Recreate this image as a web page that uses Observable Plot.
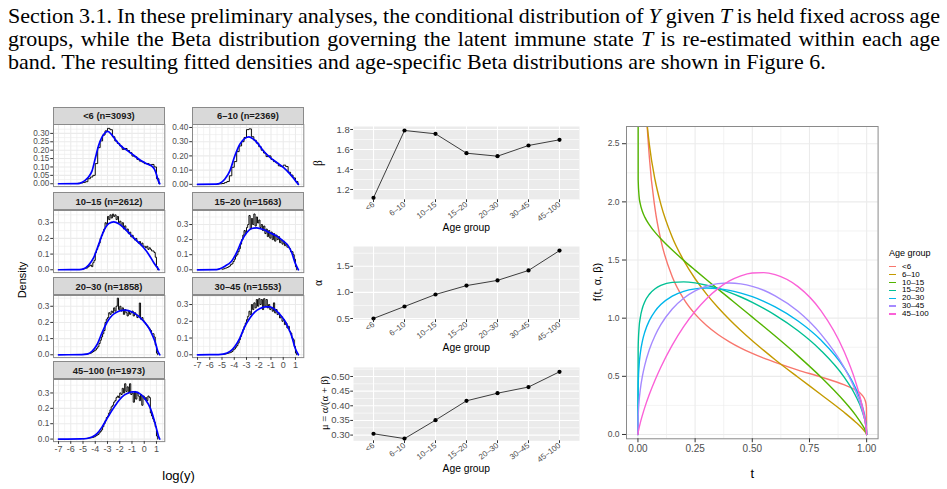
<!DOCTYPE html>
<html><head><meta charset="utf-8">
<script src="https://cdn.jsdelivr.net/npm/d3@7"></script>
<script src="https://cdn.jsdelivr.net/npm/@observablehq/plot@0.6"></script>
<style>
body{margin:0;background:#fff;}
#fig{position:relative;width:947px;height:489px;overflow:hidden;background:#fff;font-family:"Liberation Sans",Arial,sans-serif;}
.txt{position:absolute;white-space:nowrap;line-height:1;}
.para{position:absolute;left:8px;width:932px;font-family:"Liberation Serif","Times New Roman",serif;font-size:22px;line-height:23px;white-space:nowrap;color:#000;}
.just{text-align:justify;text-align-last:justify;}
.strip{position:absolute;box-sizing:border-box;background:#d9d9d9;border:1px solid #8a8a8a;font-weight:bold;font-size:9.4px;color:#1a1a1a;display:flex;align-items:center;justify-content:center;white-space:nowrap;}
</style></head><body><div id="fig"></div>
<script>
// ---------------- DATA ----------------
const ageGroups = ["<6","6–10","10–15","15–20","20–30","30–45","45–100"];
const nObs = [3093,2369,2612,1563,1858,1553,1973];
const colors = ["#F8766D","#C49A00","#53B400","#00C094","#00B6EB","#A58AFF","#FB61D7"];

// middle panels: estimated Beta parameters by age group
const betaVals  = [1.117,1.790,1.757,1.563,1.533,1.640,1.697];
const alphaVals = [0.50,0.73,0.96,1.13,1.23,1.42,1.80];
const muVals    = [0.3045,0.288,0.351,0.417,0.443,0.464,0.516];

// histograms of log(y) (density scale); first two panels: bins of 0.2 from -5.4, others 0.1 from -5.0
const histLt6 = [0.003,0.005,0.008,0.012,0.03,0.04,0.05,0.12,0.215,0.255,0.29,0.315,0.33,0.322,0.28,0.255,0.24,0.225,0.205,0.21,0.198,0.185,0.165,0.16,0.145,0.135,0.13,0.12,0.12,0.112,0.115,0.1,0.03];
const hist6to10 = [0.003,0.004,0.006,0.012,0.02,0.06,0.12,0.16,0.23,0.27,0.30,0.33,0.385,0.39,0.335,0.31,0.29,0.265,0.24,0.22,0.195,0.2,0.175,0.16,0.15,0.13,0.125,0.135,0.125,0.085,0.065,0.045,0.02];
const hist10to15 = [0.005,0.008,0.01,0.012,0.02, 0.025,0.03,0.02,0.045,0.06, 0.11,0.13,0.15,0.17,0.2, 0.22,0.24,0.26,0.3,0.29, 0.34,0.32,0.35,0.33,0.355, 0.34,0.35,0.32,0.34,0.3, 0.31,0.28,0.3,0.26,0.28, 0.25,0.26,0.23,0.24,0.21, 0.22,0.2,0.19,0.2,0.18, 0.17,0.18,0.16,0.17,0.15, 0.15,0.14,0.15,0.13,0.14, 0.13,0.12,0.12,0.11,0.08, 0.02];
const hist15to20 = [0.004,0.006,0.01,0.012,0.015, 0.02,0.025,0.035,0.04,0.055, 0.07,0.09,0.1,0.12,0.14, 0.17,0.2,0.23,0.26,0.24, 0.28,0.3,0.36,0.27,0.34, 0.3,0.37,0.29,0.35,0.31, 0.33,0.28,0.3,0.26,0.29, 0.24,0.27,0.22,0.26,0.21, 0.25,0.2,0.24,0.19,0.23, 0.2,0.22,0.18,0.2,0.17, 0.19,0.16,0.17,0.15,0.15, 0.14,0.12,0.12,0.1,0.07, 0.02];
const hist20to30 = [0.002,0.003,0.004,0.005,0.006, 0.008,0.01,0.015,0.02,0.025, 0.03,0.04,0.05,0.07,0.09, 0.11,0.13,0.15,0.2,0.22, 0.23,0.26,0.25,0.27,0.26, 0.29,0.27,0.3,0.35,0.28, 0.3,0.27,0.29,0.25,0.28, 0.26,0.24,0.27,0.25,0.26, 0.27,0.24,0.26,0.25,0.23, 0.24,0.32,0.22,0.23,0.21, 0.2,0.19,0.18,0.17,0.16, 0.15,0.13,0.13,0.11,0.06, 0.01];
const hist30to45 = [0.002,0.003,0.004,0.006,0.008, 0.01,0.012,0.015,0.02,0.03, 0.035,0.045,0.055,0.07,0.09, 0.11,0.13,0.15,0.17,0.19, 0.21,0.23,0.26,0.24,0.3, 0.27,0.31,0.28,0.33,0.29, 0.335,0.3,0.33,0.27,0.335, 0.29,0.33,0.28,0.3,0.27, 0.28,0.26,0.31,0.25,0.27, 0.24,0.25,0.22,0.23,0.2, 0.21,0.18,0.19,0.16,0.17, 0.14,0.13,0.1,0.09,0.05, 0.01];
const hist45to100 = [0.002,0.003,0.004,0.005,0.006, 0.007,0.008,0.01,0.012,0.015, 0.02,0.025,0.03,0.04,0.05, 0.06,0.08,0.1,0.12,0.14, 0.15,0.17,0.19,0.21,0.22, 0.24,0.25,0.27,0.28,0.27, 0.3,0.29,0.33,0.3,0.36, 0.31,0.34,0.3,0.36,0.29, 0.3,0.24,0.31,0.26,0.3, 0.28,0.25,0.29,0.22,0.28, 0.26,0.27,0.25,0.28,0.27, 0.17,0.15,0.13,0.11,0.08, 0.02];
const histStart = [-5.4,-5.4,-5.0,-5.0,-5.0,-5.0,-5.0];
const histWidth = [0.2,0.2,0.1,0.1,0.1,0.1,0.1];

// fitted densities (blue), [log(y), density]
const fitLt6 = [[-7,0],[-5.4,0.001],[-5.1,0.008],[-4.8,0.022],[-4.55,0.04],[-4.27,0.075],[-4.0,0.15],[-3.72,0.229],[-3.45,0.278],[-3.18,0.305],[-2.98,0.312],[-2.63,0.29],[-2.22,0.25],[-1.81,0.219],[-1.4,0.199],[-0.86,0.17],[-0.31,0.14],[0.24,0.118],[0.65,0.103],[0.84,0.085],[1.0,0.055],[1.14,0.02],[1.27,0]];
const fit6to10 = [[-7,0],[-5.45,0.001],[-5.17,0.007],[-4.76,0.037],[-4.35,0.096],[-3.95,0.201],[-3.54,0.283],[-3.13,0.323],[-2.8,0.334],[-2.44,0.318],[-2.03,0.283],[-1.63,0.236],[-1.08,0.189],[-0.53,0.154],[0.01,0.119],[0.56,0.072],[1.1,0.014],[1.24,0]];
const fit10to15 = [[-7,0],[-5.3,0.001],[-4.95,0.006],[-4.54,0.03],[-4.13,0.077],[-3.72,0.162],[-3.31,0.247],[-2.9,0.294],[-2.49,0.306],[-2.08,0.294],[-1.67,0.268],[-1.13,0.225],[-0.58,0.183],[-0.04,0.14],[0.37,0.098],[0.78,0.045],[1.2,0]];
const fit15to20 = [[-7,0],[-5.45,0.001],[-5.17,0.007],[-4.76,0.024],[-4.22,0.057],[-3.81,0.113],[-3.4,0.19],[-2.99,0.245],[-2.58,0.274],[-2.17,0.278],[-1.63,0.267],[-1.08,0.245],[-0.53,0.223],[0.01,0.19],[0.42,0.157],[0.7,0.113],[0.97,0.046],[1.24,0]];
const fit20to30 = [[-7,0],[-5.1,0.001],[-4.68,0.004],[-4.27,0.021],[-3.86,0.062],[-3.45,0.135],[-3.04,0.201],[-2.63,0.243],[-2.22,0.265],[-1.81,0.275],[-1.54,0.276],[-0.99,0.265],[-0.45,0.238],[-0.04,0.207],[0.37,0.166],[0.65,0.124],[0.92,0.073],[1.11,0.021],[1.27,0]];
const fit30to45 = [[-7,0],[-5.3,0.001],[-4.9,0.004],[-4.35,0.02],[-3.95,0.05],[-3.54,0.1],[-3.13,0.17],[-2.72,0.22],[-2.31,0.256],[-1.9,0.276],[-1.49,0.286],[-1.08,0.286],[-0.67,0.27],[-0.26,0.24],[0.15,0.2],[0.42,0.16],[0.7,0.11],[0.97,0.04],[1.24,0]];
const fit45to100 = [[-7,0],[-5.2,0.001],[-4.68,0.004],[-4.27,0.013],[-3.86,0.035],[-3.45,0.078],[-3.04,0.133],[-2.63,0.187],[-2.22,0.235],[-1.81,0.275],[-1.4,0.296],[-0.99,0.307],[-0.72,0.307],[-0.31,0.292],[0.1,0.257],[0.51,0.198],[0.78,0.133],[1.0,0.068],[1.19,0.013],[1.27,0]];

// facet y axes
const facetYDomains = [[-0.017,0.353],[-0.016,0.421],[-0.018,0.378],[-0.0185,0.393],[-0.0174,0.3665],[-0.0168,0.354],[-0.0163,0.3876]];
const facetYTicks = [[0,0.05,0.1,0.15,0.2,0.25,0.3],[0,0.1,0.2,0.3,0.4],[0,0.1,0.2,0.3],[0,0.1,0.2,0.3],[0,0.1,0.2,0.3],[0,0.1,0.2,0.3],[0,0.1,0.2,0.3]];
const facetYMinor = [[0.025,0.075,0.125,0.175,0.225,0.275,0.325],[0.05,0.15,0.25,0.35],[0.05,0.15,0.25,0.35],[0.05,0.15,0.25,0.35],[0.05,0.15,0.25,0.35],[0.05,0.15,0.25,0.35],[0.05,0.15,0.25,0.35]];
const facetYFormat = [".2f",".2f",".1f",".1f",".1f",".1f",".1f"];
const logYTicks = [-7,-6,-5,-4,-3,-2,-1,0,1];
const logYMinor = [-6.5,-5.5,-4.5,-3.5,-2.5,-1.5,-0.5,0.5,1.5];
const logYDomain = [-7.41,1.68];

// right panel: Beta densities f(t; alpha, beta) read on a grid of t
const tGrid = [0,0.001,0.005,0.01,0.02,0.03,0.05,0.075,0.1,0.15,0.2,0.25,0.3,0.35,0.4,0.45,0.5,0.55,0.6,0.7,0.8,0.9,0.95,0.98,0.995,0.999,1];
const betaLt6    = [50,16.94,7.571,5.350,3.779,3.081,2.381,1.938,1.673,1.357,1.166,1.035,0.937,0.860,0.797,0.743,0.697,0.656,0.620,0.554,0.494,0.428,0.384,0.339,0.284,0.234,0];
const beta6to10  = [50,7.458,4.814,3.976,3.271,2.909,2.492,2.188,1.981,1.696,1.497,1.339,1.207,1.092,0.989,0.894,0.806,0.723,0.643,0.492,0.344,0.193,0.110,0.053,0.018,0.005,0];
const beta10to15 = [50,2.190,2.047,1.984,1.915,1.869,1.803,1.738,1.683,1.586,1.497,1.413,1.331,1.250,1.170,1.090,1.009,0.928,0.846,0.676,0.494,0.290,0.171,0.085,0.030,0.009,0];
const beta15to20 = [0,0.746,0.918,1.001,1.090,1.142,1.206,1.253,1.281,1.308,1.312,1.303,1.283,1.256,1.222,1.182,1.136,1.084,1.027,0.892,0.723,0.498,0.340,0.204,0.094,0.038,0];
const beta20to30 = [0,0.410,0.592,0.692,0.807,0.881,0.980,1.061,1.117,1.190,1.231,1.252,1.259,1.254,1.239,1.216,1.185,1.145,1.097,0.976,0.812,0.578,0.405,0.251,0.121,0.052,0];
const beta30to45 = [0,0.146,0.286,0.381,0.507,0.597,0.730,0.851,0.944,1.079,1.171,1.234,1.275,1.297,1.303,1.295,1.274,1.240,1.192,1.059,0.863,0.582,0.382,0.215,0.089,0.032,0];
const beta45to100= [0,0.016,0.056,0.098,0.169,0.233,0.345,0.468,0.578,0.768,0.927,1.059,1.168,1.254,1.320,1.364,1.388,1.392,1.374,1.271,1.065,0.720,0.463,0.250,0.096,0.031,0];

// ---------------- LAYOUT ----------------
const fig = document.getElementById("fig");
const SANS = '"Liberation Sans", Arial, sans-serif';
const SERIF = '"Liberation Serif", "Times New Roman", serif';

function place(svg, left, top) {
  svg.style.position = "absolute";
  svg.style.left = left + "px";
  svg.style.top = top + "px";
  fig.appendChild(svg);
}
function addText(html, cx, cy, size, o = {}) {
  const d = document.createElement("div");
  d.className = "txt";
  d.innerHTML = html;
  d.style.left = cx + "px"; d.style.top = cy + "px";
  d.style.fontSize = size + "px";
  d.style.fontFamily = o.family || SANS;
  d.style.color = o.color || "#000";
  const ax = o.anchor === "start" ? "0" : "-50%";
  d.style.transform = `translate(${ax},-50%)`;
  if (o.rotate) {
    d.style.transformOrigin = "0 0";
    d.style.transform = `rotate(${o.rotate}deg) translate(-50%,-50%)`;
  }
  fig.appendChild(d);
  return d;
}

// paragraph
const paraLines = [
  'Section 3.1. In these preliminary analyses, the conditional distribution of <i>Y</i> given <i>T</i> is held fixed across age',
  'groups, while the Beta distribution governing the latent immune state <i>T</i> is re-estimated within each age',
  'band. The resulting fitted densities and age-specific Beta distributions are shown in Figure 6.'
];
paraLines.forEach((s, i) => {
  const d = document.createElement("div");
  d.className = "para" + (i < 2 ? " just" : "");
  d.style.top = (4 + i * 23) + "px";
  if (i < 2) d.style.wordSpacing = "-3.5px";
  d.innerHTML = s;
  fig.appendChild(d);
});

// ---------------- FACETED HISTOGRAMS ----------------
const hists = [histLt6, hist6to10, hist10to15, hist15to20, hist20to30, hist30to45, hist45to100];
const fits = [fitLt6, fit6to10, fit10to15, fit15to20, fit20to30, fit30to45, fit45to100];
const colLeft = [53.3, 192.3], panelW = 111.3;
const rowTop = [124.3, 209.7, 294.7, 378.7], panelH = 62.1, stripH = 17.5;

hists.forEach((h, i) => {
  const col = i % 2, row = Math.floor(i / 2);
  const showX = (i === 5 || i === 6);
  const ml = 34, mr = 4, mt = 1, mb = 16;
  const steps = h.map((v, k) => ({x: histStart[i] + k * histWidth[i], y: v}));
  steps.push({x: histStart[i] + h.length * histWidth[i], y: 0});
  const fmt = d3.format(facetYFormat[i]);
  const marks = [
    Plot.frame({fill: "white", stroke: "none"}),
    Plot.ruleX(logYMinor, {stroke: "#ebebeb", strokeWidth: 0.6}),
    Plot.ruleY(facetYMinor[i], {stroke: "#ebebeb", strokeWidth: 0.6}),
    Plot.ruleX(logYTicks, {stroke: "#ebebeb", strokeWidth: 1.1}),
    Plot.ruleY(facetYTicks[i], {stroke: "#ebebeb", strokeWidth: 1.1}),
    Plot.line(steps, {x: "x", y: "y", curve: "step-after", stroke: "#000", strokeWidth: 0.95}),
    Plot.line(fits[i], {x: d => d[0], y: d => d[1], curve: "monotone-x", stroke: "#0000ff", strokeWidth: 1.7}),
    Plot.frame({stroke: "#8a8a8a", strokeWidth: 1}),
    Plot.axisY({ticks: facetYTicks[i], tickFormat: fmt, tickSize: 2.75, tickPadding: 1.5, label: null, fontSize: 8.2, stroke: "#333", fill: "#4d4d4d"})
  ];
  if (showX) marks.push(Plot.axisX({ticks: logYTicks, tickFormat: d => String(d), tickSize: 2.75, tickPadding: 1.5, label: null, fontSize: 9, stroke: "#333", fill: "#4d4d4d"}));
  const svg = Plot.plot({
    width: panelW + ml + mr, height: panelH + mt + mb,
    marginLeft: ml, marginRight: mr, marginTop: mt, marginBottom: mb,
    x: {domain: logYDomain, ...(showX ? {} : {axis: null})},
    y: {domain: facetYDomains[i]},
    style: {background: "transparent", overflow: "visible", fontFamily: SANS},
    marks
  });
  place(svg, colLeft[col] - ml, rowTop[row] - mt);
  const s = document.createElement("div");
  s.className = "strip";
  s.style.left = colLeft[col] + "px";
  s.style.top = (rowTop[row] - stripH) + "px";
  s.style.width = panelW + "px";
  s.style.height = (stripH + 0.5) + "px";
  s.textContent = `${ageGroups[i]} (n=${nObs[i]})`;
  fig.appendChild(s);
});
addText("Density", 21.5, 280, 11, {rotate: -90});
addText("log(y)", 178.5, 475, 13);

// ---------------- PARAMETER PANELS ----------------
const paramPanels = [
  {vals: betaVals, dom: [1.097, 1.83], ticks: [1.2,1.4,1.6,1.8], minor: [1.1,1.3,1.5,1.7], fmt: ".1f", top: 126, label: "β", labelX: 319},
  {vals: alphaVals, dom: [0.475, 1.879], ticks: [0.5,1.0,1.5], minor: [0.75,1.25,1.75], fmt: ".1f", top: 246, label: "α", labelX: 319},
  {vals: muVals, dom: [0.2805, 0.5307], ticks: [0.30,0.35,0.40,0.45,0.50], minor: [0.325,0.375,0.425,0.475,0.525], fmt: ".2f", top: 366.7, label: "μ = α/(α + β)", labelX: 325}
];
const pLeft = 353.3, pW = 226, pH = 73.3;
paramPanels.forEach(p => {
  const ml = 32, mr = 10, mt = 1, mb = 34;
  const data = ageGroups.map((g, k) => ({g, v: p.vals[k]}));
  const svg = Plot.plot({
    width: pW + ml + mr, height: pH + mt + mb,
    marginLeft: ml, marginRight: mr, marginTop: mt, marginBottom: mb,
    x: {type: "point", domain: ageGroups, padding: 0.6},
    y: {domain: p.dom},
    style: {background: "transparent", overflow: "visible", fontFamily: SANS},
    marks: [
      Plot.frame({fill: "#ebebeb", stroke: "none"}),
      Plot.ruleY(p.minor, {stroke: "white", strokeWidth: 0.6}),
      Plot.ruleY(p.ticks, {stroke: "white", strokeWidth: 1.1}),
      Plot.ruleX(ageGroups, {stroke: "white", strokeWidth: 1.1}),
      Plot.line(data, {x: "g", y: "v", stroke: "#000", strokeWidth: 0.75}),
      Plot.dot(data, {x: "g", y: "v", r: 2.1, fill: "#000", stroke: "none"}),
      Plot.axisY({ticks: p.ticks, tickFormat: d3.format(p.fmt), tickSize: 2.75, tickPadding: 1, label: null, fontSize: 9.5, stroke: "#333", fill: "#4d4d4d"}),
      Plot.axisX({tickRotate: -37, tickSize: 2.75, tickPadding: 1, label: null, fontSize: 8, stroke: "#333", fill: "#4d4d4d"})
    ]
  });
  place(svg, pLeft - ml, p.top - mt);
  addText(p.label, p.labelX, p.top + pH / 2, p.label.length > 1 ? 10.5 : 11.5, {rotate: -90, family: SERIF});
  addText("Age group", pLeft + pW / 2, p.top + pH + 29, 10.3);
});

// ---------------- BETA DENSITIES ----------------
const betaSeries = [betaLt6, beta6to10, beta10to15, beta15to20, beta20to30, beta30to45, beta45to100];
const betaRows = betaSeries.flatMap((arr, k) => tGrid.map((t, j) => ({t, f: arr[j], g: ageGroups[k]})));
{
  const left = 626.2, top = 126, w = 251.6, h = 312.3;
  const ml = 30, mr = 4, mt = 1, mb = 20;
  const svg = Plot.plot({
    width: w + ml + mr, height: h + mt + mb,
    marginLeft: ml, marginRight: mr, marginTop: mt, marginBottom: mb,
    x: {domain: [-0.05, 1.05]},
    y: {domain: [-0.037, 2.648]},
    color: {domain: ageGroups, range: colors},
    style: {background: "transparent", overflow: "visible", fontFamily: SANS},
    marks: [
      Plot.frame({fill: "white", stroke: "none"}),
      Plot.ruleX([0.125,0.375,0.625,0.875], {stroke: "#ebebeb", strokeWidth: 0.6}),
      Plot.ruleY([0.25,0.75,1.25,1.75,2.25], {stroke: "#ebebeb", strokeWidth: 0.6}),
      Plot.ruleX([0,0.25,0.5,0.75,1], {stroke: "#ebebeb", strokeWidth: 1.1}),
      Plot.ruleY([0,0.5,1,1.5,2,2.5], {stroke: "#ebebeb", strokeWidth: 1.1}),
      Plot.line(betaRows, {x: "t", y: "f", z: "g", stroke: "g", curve: "monotone-x", strokeWidth: 1.4, clip: true}),
      Plot.frame({stroke: "#8a8a8a", strokeWidth: 1}),
      Plot.axisY({ticks: [0,0.5,1,1.5,2,2.5], tickFormat: d3.format(".1f"), tickSize: 4, tickPadding: 3, label: null, fontSize: 8.5, stroke: "#333", fill: "#4d4d4d"}),
      Plot.axisX({ticks: [0,0.25,0.5,0.75,1], tickFormat: d3.format(".2f"), tickSize: 4, tickPadding: 2.5, label: null, fontSize: 10, stroke: "#333", fill: "#4d4d4d"})
    ]
  });
  place(svg, left - ml, top - mt);
  addText("f(t, α, β)", 597, top + h / 2, 11, {rotate: -90});
  addText("t", 752.2, 472.7, 13);
  // legend
  addText("Age group", 889, 252.7, 9, {anchor: "start"});
  ageGroups.forEach((g, k) => {
    const cy = 266.7 + k * 7.9;
    const key = document.createElement("div");
    key.style.cssText = `position:absolute;left:889px;top:${cy - 0.8}px;width:6.5px;height:1.6px;background:${colors[k]};`;
    fig.appendChild(key);
    addText(g, 902, cy, 8, {anchor: "start"});
  });
}
</script></body></html>
